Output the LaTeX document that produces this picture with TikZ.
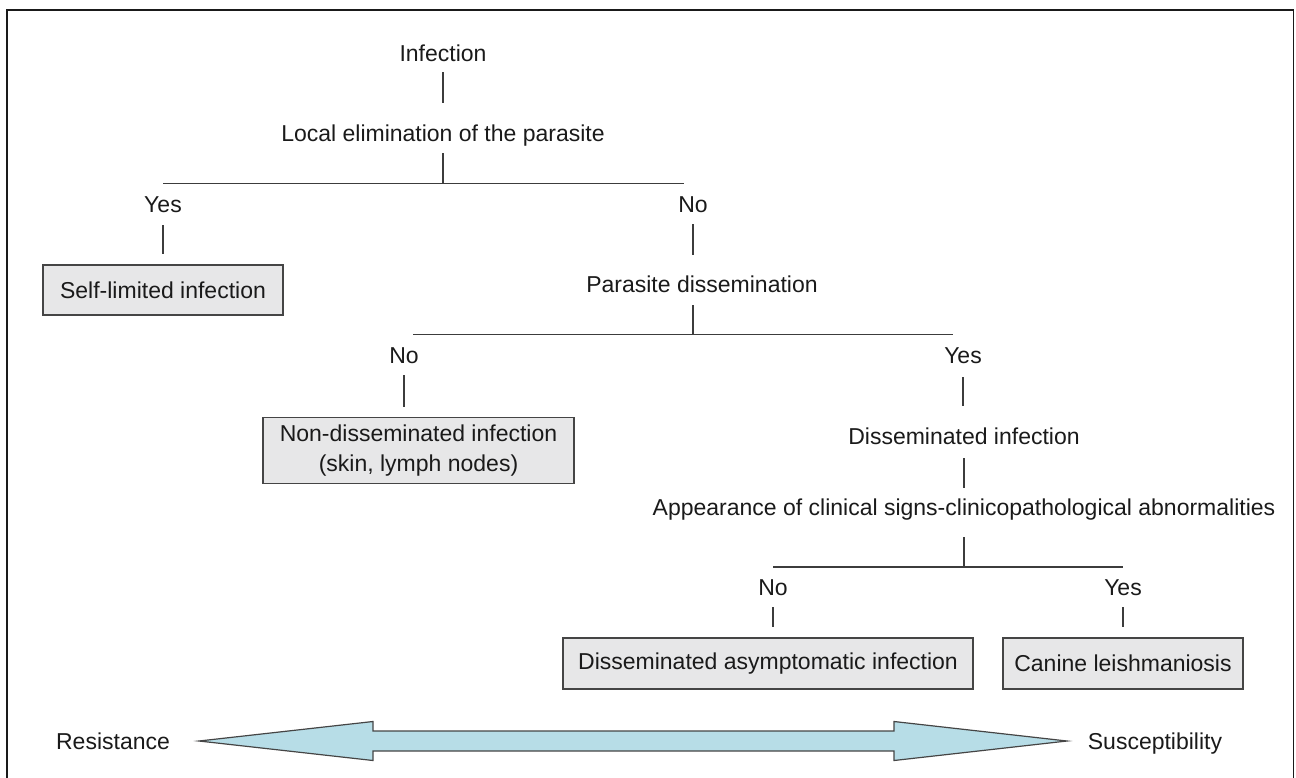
\documentclass[tikz,border=0pt]{standalone}
\usepackage{fontspec}
\setmainfont{Liberation Sans}
\begin{document}
\definecolor{inkcol}{HTML}{1A1A1A}
\definecolor{linecol}{HTML}{3C3C3C}
\definecolor{boxline}{HTML}{454545}
\definecolor{boxfill}{HTML}{E7E7E8}
\definecolor{arrowfill}{HTML}{B7DDE7}
\newcommand{\lblfont}{\fontsize{23}{30}\selectfont}
\begin{tikzpicture}[x=1pt,y=-1pt,
  lbl/.style={font=\lblfont, text=inkcol, inner sep=0pt, text height=16pt, text depth=5pt, anchor=base},
  outcome/.style={draw=boxline, fill=boxfill, line width=1.3pt, font=\lblfont, text=inkcol,
                  inner sep=0pt, align=center, anchor=center},
  link/.style={draw=linecol, line width=1.4pt},
  gapA/.style={shorten <=#1},
  gapB/.style={shorten >=#1}]
\useasboundingbox (0,0) rectangle (1296,777);

% outer frame (open at the foot)
\draw[line width=1.6pt, draw=inkcol] (7,778) -- (7,10) -- (1293.5,10) -- (1293.5,778);

% decision labels
\node[lbl] (inf) at (443,61) {Infection};
\node[lbl] (loc) at (443,141) {Local elimination of the parasite};
\node[lbl] (yes1) at (163,212) {Yes};
\node[lbl] (no1) at (693,212) {No};
\node[lbl] (par) at (702,292) {Parasite dissemination};
\node[lbl] (no2) at (404,363) {No};
\node[lbl] (yes2) at (963,363) {Yes};
\node[lbl] (dis) at (964,444) {Disseminated infection};
\node[lbl] (app) at (964,515) {Appearance of clinical signs-clinicopathological abnormalities};
\node[lbl] (no3) at (773,595) {No};
\node[lbl] (yes3) at (1123,595) {Yes};

% outcome boxes
\node[outcome, minimum width=240pt, minimum height=50pt] (self) at (163,290) {Self-limited infection};
\node[outcome, minimum width=311pt, minimum height=66pt] (nondis) at (418.5,450.5)
  {Non-disseminated infection\\(skin, lymph nodes)};
\node[outcome, minimum width=410pt, minimum height=51pt] (asym) at (768,663.5) {Disseminated asymptomatic infection};
\node[outcome, minimum width=240pt, minimum height=51pt] (canl) at (1123,663.5) {Canine leishmaniosis};

% branch points and bar ends
\coordinate (br1) at (443,183.5);
\coordinate (b1L) at (163,183.5);
\coordinate (b1R) at (684,183.5);
\coordinate (br2) at (693,334.5);
\coordinate (b2L) at (413,334.5);
\coordinate (b2R) at (953,334.5);
\coordinate (br3) at (964,567);
\coordinate (b3L) at (773,567);
\coordinate (b3R) at (1123,567);

% first split
\draw[link, gapA=6pt, gapB=22pt] (inf) -- (loc);
\draw[link, gapA=7pt] (loc) -- (br1);
\draw[link] (b1L) -- (b1R);
\draw[link, gapA=8pt, gapB=10pt] (yes1) -- (self);
\draw[link, gapA=7pt, gapB=21pt] (no1) -- (no1 |- par.north);

% second split
\draw[link, gapA=8pt] (par.south -| br2) -- (br2);
\draw[link] (b2L) -- (b2R);
\draw[link, gapA=7pt, gapB=10pt] (no2) -- (no2 |- nondis.north);
\draw[link, gapA=9pt, gapB=22pt] (yes2) -- (yes2 |- dis.north);

% third split
\draw[link, gapA=9pt, gapB=11pt] (dis) -- (dis |- app.north);
\draw[link, gapA=17pt] (app.south -| br3) -- (br3);
\draw[link] (b3L) -- (b3R);
\draw[link, gapA=7pt, gapB=10pt] (no3) -- (no3 |- asym.north);
\draw[link, gapA=7pt, gapB=10pt] (yes3) -- (canl);

% resistance / susceptibility scale
\node[lbl] (res) at (113,749) {Resistance};
\node[lbl] (sus) at (1155,749) {Susceptibility};
\draw[draw=boxline, fill=arrowfill, line width=1.2pt, line join=miter]
  (199,741) -- (373,721.5) -- (373,731) -- (894,731) -- (894,721.5) -- (1067,741)
  -- (894,760.5) -- (894,751) -- (373,751) -- (373,760.5) -- cycle;
\end{tikzpicture}
\end{document}
